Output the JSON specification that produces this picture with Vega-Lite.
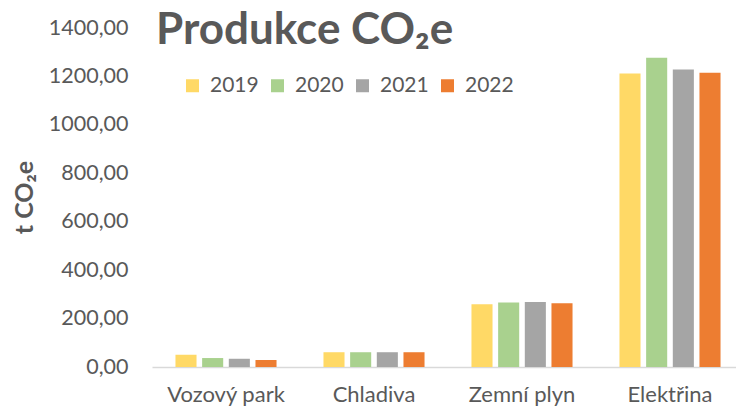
{
  "$schema": "https://vega.github.io/schema/vega-lite/v6.json",
  "width": 584,
  "height": 339,
  "autosize": {"type": "none"},
  "padding": {"left": 152, "top": 28, "right": 0, "bottom": 44},
  "background": "white",
  "config": {
    "view": {"stroke": null},
    "font": "Lato"
  },
  "title": {
    "text": "Produkce CO₂e",
    "anchor": "start",
    "frame": "group",
    "orient": "top",
    "baseline": "alphabetic",
    "offset": 0,
    "dx": 4,
    "dy": 71,
    "font": "Lato",
    "fontSize": 44,
    "fontWeight": "bold",
    "color": "#595959"
  },
  "data": {
    "values": [
      {"kategorie": "Vozový park", "rok": "2019", "hodnota": 51},
      {"kategorie": "Vozový park", "rok": "2020", "hodnota": 37},
      {"kategorie": "Vozový park", "rok": "2021", "hodnota": 34},
      {"kategorie": "Vozový park", "rok": "2022", "hodnota": 29},
      {"kategorie": "Chladiva", "rok": "2019", "hodnota": 61},
      {"kategorie": "Chladiva", "rok": "2020", "hodnota": 61},
      {"kategorie": "Chladiva", "rok": "2021", "hodnota": 61},
      {"kategorie": "Chladiva", "rok": "2022", "hodnota": 61},
      {"kategorie": "Zemní plyn", "rok": "2019", "hodnota": 259},
      {"kategorie": "Zemní plyn", "rok": "2020", "hodnota": 266},
      {"kategorie": "Zemní plyn", "rok": "2021", "hodnota": 268},
      {"kategorie": "Zemní plyn", "rok": "2022", "hodnota": 263},
      {"kategorie": "Elektřina", "rok": "2019", "hodnota": 1212},
      {"kategorie": "Elektřina", "rok": "2020", "hodnota": 1277},
      {"kategorie": "Elektřina", "rok": "2021", "hodnota": 1229},
      {"kategorie": "Elektřina", "rok": "2022", "hodnota": 1215}
    ]
  },
  "mark": {"type": "bar"},
  "encoding": {
    "x": {
      "field": "kategorie",
      "type": "nominal",
      "sort": ["Vozový park", "Chladiva", "Zemní plyn", "Elektřina"],
      "scale": {"range": [0, 592], "paddingInner": 0, "paddingOuter": 0},
      "axis": {
        "title": null,
        "labelAngle": 0,
        "labelFont": "Lato",
        "labelFontSize": 22,
        "labelColor": "#595959",
        "labelPadding": 17,
        "ticks": false,
        "domainColor": "#d9d9d9",
        "domainWidth": 1.5
      }
    },
    "xOffset": {
      "field": "rok",
      "type": "nominal",
      "scale": {"paddingInner": 0.21, "paddingOuter": 0.88}
    },
    "y": {
      "field": "hodnota",
      "type": "quantitative",
      "scale": {"domain": [0, 1400], "nice": false},
      "axis": {
        "values": [0, 200, 400, 600, 800, 1000, 1200, 1400],
        "labelExpr": "replace(format(datum.value, '.2f'), '.', ',')",
        "labelFont": "Lato",
        "labelFontSize": 21.5,
        "labelColor": "#595959",
        "labelPadding": 24,
        "ticks": false,
        "domain": false,
        "grid": false,
        "title": "t CO₂e",
        "titleFont": "Lato",
        "titleFontSize": 25,
        "titleFontWeight": "bold",
        "titleColor": "#595959",
        "titleAngle": -90,
        "titleX": -128,
        "titleY": 169,
        "titleAlign": "center",
        "titleBaseline": "middle"
      }
    },
    "color": {
      "field": "rok",
      "type": "nominal",
      "scale": {
        "domain": ["2019", "2020", "2021", "2022"],
        "range": ["#FFD966", "#A9D18E", "#A5A5A5", "#ED7D31"]
      },
      "legend": {
        "title": null,
        "orient": "none",
        "direction": "horizontal",
        "columns": 4,
        "legendX": 30,
        "legendY": 47,
        "padding": 0,
        "symbolType": "square",
        "symbolSize": 169,
        "symbolStrokeWidth": 0,
        "labelFont": "Lato",
        "labelFontSize": 21,
        "labelColor": "#595959",
        "labelOffset": 7,
        "columnPadding": 8
      }
    }
  }
}
